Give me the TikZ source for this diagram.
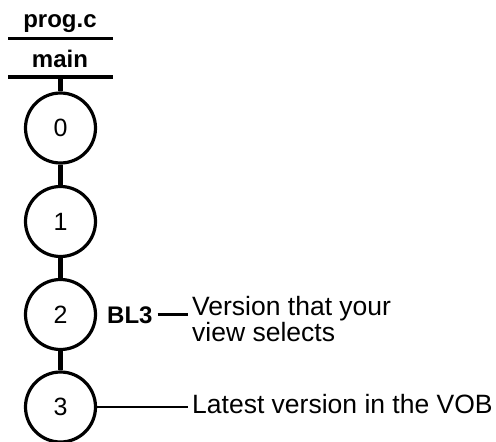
\documentclass[tikz,border=0pt]{standalone}
\usepackage{fontspec}
\setmainfont{Liberation Sans}
\begin{document}
\begin{tikzpicture}[x=1pt,y=-1pt,
  version/.style={circle,draw,line width=3.2pt,minimum size=70pt,inner sep=0pt,
    font=\fontsize{25}{28}\selectfont},
  branchlbl/.style={inner sep=0pt,font=\fontsize{24}{28}\selectfont\bfseries},
  header/.style={line width=3.6pt},
  stem/.style={line width=5pt},
  note/.style={inner sep=0pt,align=left,font=\fontsize{26.5}{23}\selectfont},
  pointer/.style={line width=2.2pt}]
\useasboundingbox (0,0) rectangle (496,442);

% element name and branch header
\node[branchlbl,anchor=base] (elem) at (60,27.5) {prog.c};
\coordinate (h1l) at (8,38.5);
\coordinate (h1r) at (113,38.5);
\draw[header] (h1l) -- (h1r);
\node[branchlbl,anchor=base] (branch) at (60,67) {main};
\coordinate (h2l) at (8,77);
\coordinate (h2r) at (113,77);
\coordinate (h2m) at (60.5,77);
\draw[header] (h2l) -- (h2r);

% versions on the main branch
\node[version] (v0) at (60.5,128) {0};
\node[version] (v1) at (60.5,221.5) {1};
\node[version] (v2) at (60.5,314.5) {2};
\node[version] (v3) at (60.5,407) {3};

\draw[stem] (h2m) -- (v0.north);
\draw[stem] (v0) -- (v1);
\draw[stem] (v1) -- (v2);
\draw[stem] (v2) -- (v3);

% label on version 2 and its annotation
\node[branchlbl,anchor=base west] (bl3) at (107,323) {BL3};
\node[note,anchor=north west] (sel) at (192,296.5) {Version that your\\view selects};
\draw[pointer,shorten <=5pt] (bl3.east |- v2) -- ([xshift=-4pt]sel.west |- v2);

% annotation on the latest version
\node[note,anchor=base west] (latest) at (192,413) {Latest version in the VOB};
\draw[pointer] (v3.east) -- ([xshift=-4pt]latest.west |- v3);
\end{tikzpicture}
\end{document}
